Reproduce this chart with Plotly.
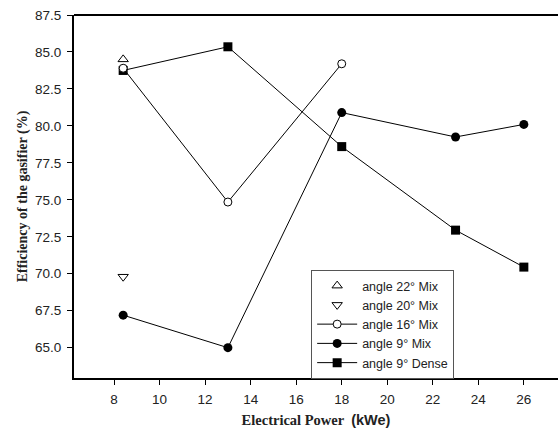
import plotly.graph_objects as go

# Data
x_22 = [8.4]
y_22 = [84.5]
x_20 = [8.4]
y_20 = [69.8]
x_16 = [8.4, 13, 18]
y_16 = [83.9, 74.85, 84.2]
x_9mix = [8.4, 13, 18, 23, 26]
y_9mix = [67.2, 65.0, 80.9, 79.25, 80.1]
x_9dense = [8.4, 13, 18, 23, 26]
y_9dense = [83.75, 85.35, 78.6, 72.95, 70.45]

x_ticks = [8, 10, 12, 14, 16, 18, 20, 22, 24, 26]
y_ticks = [65.0, 67.5, 70.0, 72.5, 75.0, 77.5, 80.0, 82.5, 85.0, 87.5]

SANS = "Liberation Sans, Arial, sans-serif"
SERIF = "Liberation Serif, Times New Roman, serif"

fig = go.Figure()

fig.add_trace(go.Scatter(
    x=x_9dense, y=y_9dense, mode="lines+markers", name="angle 9° Dense",
    line=dict(color="black", width=1),
    marker=dict(symbol="square", size=9, color="black"),
    legendrank=5))
fig.add_trace(go.Scatter(
    x=x_9mix, y=y_9mix, mode="lines+markers", name="angle 9° Mix",
    line=dict(color="black", width=1),
    marker=dict(symbol="circle", size=9, color="black"),
    legendrank=4))
fig.add_trace(go.Scatter(
    x=x_16, y=y_16, mode="lines+markers", name="angle 16° Mix",
    line=dict(color="black", width=1),
    marker=dict(symbol="circle", size=8, color="white",
                line=dict(color="black", width=1)),
    legendrank=3))
fig.add_trace(go.Scatter(
    x=x_20, y=y_20, mode="markers", name="angle 20° Mix",
    marker=dict(symbol="triangle-down", size=9, color="white",
                line=dict(color="black", width=1)),
    legendrank=2))
fig.add_trace(go.Scatter(
    x=x_22, y=y_22, mode="markers", name="angle 22° Mix",
    marker=dict(symbol="triangle-up", size=9, color="white",
                line=dict(color="black", width=1)),
    legendrank=1))

fig.update_layout(
    width=558, height=428,
    margin=dict(l=74, r=0, t=15, b=50),
    paper_bgcolor="white", plot_bgcolor="white",
    font=dict(family=SANS, size=13.5, color="#222"),
    showlegend=True,
    legend=dict(
        x=0.49, y=0.2975, xanchor="left", yanchor="top",
        bgcolor="white", bordercolor="#555", borderwidth=1,
        font=dict(family=SANS, size=12.5, color="#222"),
        tracegroupgap=0, itemwidth=40),
    xaxis=dict(
        range=[6.24, 27.5], tickvals=x_ticks, ticktext=[str(v) for v in x_ticks],
        showline=True, linecolor="black", linewidth=2,
        ticks="outside", ticklen=5, tickcolor="black", tickwidth=1,
        ticklabelstandoff=3,
        showgrid=False, zeroline=False,
        title=dict(text='Electrical Power  <span style="font-family:Liberation Sans, Arial, sans-serif">(kWe)</span>',
                   font=dict(family=SERIF, size=14.5, color="#222", weight="bold"),
                   standoff=10)),
    yaxis=dict(
        range=[62.95, 87.5], tickvals=y_ticks, ticktext=[f"{v:.1f}" for v in y_ticks],
        showline=True, linecolor="black", linewidth=2,
        ticks="outside", ticklen=5, tickcolor="black", tickwidth=1,
        ticklabelstandoff=3,
        showgrid=False, zeroline=False,
        title=dict(text="Efficiency of the gasifier (%)",
                   font=dict(family=SERIF, size=14, color="#222", weight="bold"),
                   standoff=4)),
)

# Top frame line
fig.add_shape(type="line", xref="paper", yref="paper", x0=0, x1=1, y0=1, y1=1,
              line=dict(color="black", width=2))

fig.write_html("out.html", config={"displayModeBar": False},
               post_script="document.body.style.margin='0';document.body.style.padding='0';")
